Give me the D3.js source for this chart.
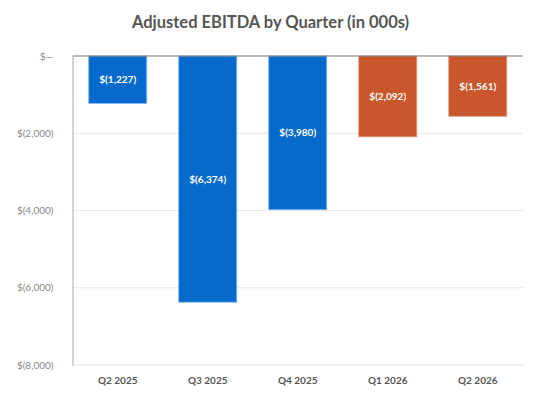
<!DOCTYPE html>
<html>
<head>
<meta charset="utf-8">
<script src="https://cdn.jsdelivr.net/npm/d3@7"></script>
<style>
  body { margin: 0; background: #fff; }
  text { font-family: Lato, "Open Sans", sans-serif; }
</style>
</head>
<body>
<main></main>
<script>
const quarters = ['Q2 2025', 'Q3 2025', 'Q4 2025', 'Q1 2026', 'Q2 2026']
const ebitda = [-1227, -6374, -3980, -2092, -1561]
const forecast = [false, false, false, true, true]
const yTicks = [0, -2000, -4000, -6000, -8000]

const W = 541, H = 403
const margin = {top: 56, right: 18, bottom: 38, left: 72.5}
const width = W - margin.left - margin.right
const height = H - margin.top - margin.bottom

const x = d3.scaleBand().domain(quarters).range([0, width]).paddingInner(0.355).paddingOuter(0.18)
const y = d3.scaleLinear().domain([-8000, 0]).range([height, 0])

const fmt = v => v === 0 ? '$—' : '$(' + d3.format(',')(Math.abs(v)) + ')'

const svg = d3.select('main').append('svg')
  .attr('width', W)
  .attr('height', H)

svg.append('text')
  .attr('x', W / 2)
  .attr('y', 28)
  .attr('text-anchor', 'middle')
  .attr('font-size', 16.5)
  .attr('font-weight', 700)
  .attr('fill', '#555')
  .text('Adjusted EBITDA by Quarter (in 000s)')

const g = svg.append('g').attr('transform', `translate(${margin.left},${margin.top})`)

// gridlines
g.append('g')
  .selectAll('line')
  .data(yTicks.filter(d => d !== 0))
  .enter().append('line')
    .attr('x1', 0)
    .attr('x2', width)
    .attr('y1', d => y(d))
    .attr('y2', d => y(d))
    .attr('stroke', '#e8e8e8')
    .attr('stroke-width', 1)

// y axis
const yAxis = g.append('g')
  .call(d3.axisLeft(y).tickValues(yTicks).tickFormat(fmt).tickSize(0).tickPadding(19))
yAxis.select('.domain').attr('stroke', '#aaa')
yAxis.selectAll('text')
  .attr('fill', '#888')
  .attr('font-size', 10)
  .style('font-family', 'Lato, sans-serif')

// bars
const rows = quarters.map((q, i) => ({q, v: ebitda[i], f: forecast[i]}))

g.append('g')
  .selectAll('rect')
  .data(rows)
  .enter().append('rect')
    .attr('x', d => x(d.q))
    .attr('width', x.bandwidth())
    .attr('y', y(0))
    .attr('height', d => y(d.v) - y(0))
    .attr('fill', d => d.f ? '#c9572b' : '#056acc')
    .attr('stroke', d => d.f ? '#e49a78' : '#7fbcf0')
    .attr('stroke-width', 0.8)

g.append('g')
  .selectAll('text')
  .data(rows)
  .enter().append('text')
    .attr('x', d => x(d.q) + x.bandwidth() / 2)
    .attr('y', d => (y(0) + y(d.v)) / 2)
    .attr('dy', '0.35em')
    .attr('text-anchor', 'middle')
    .attr('fill', '#fff')
    .attr('font-size', 10)
    .attr('font-weight', 700)
    .text(d => fmt(d.v))

// zero line
g.append('line')
  .attr('x1', 0)
  .attr('x2', width)
  .attr('y1', y(0))
  .attr('y2', y(0))
  .attr('stroke', '#777')
  .attr('stroke-width', 1.2)

// x axis labels
const xAxis = g.append('g')
  .attr('transform', `translate(0,${height})`)
  .call(d3.axisBottom(x).tickSize(0).tickPadding(12))
xAxis.select('.domain').remove()
xAxis.selectAll('text')
  .attr('fill', '#555')
  .attr('font-size', 10)
  .attr('font-weight', 700)
  .style('font-family', 'Lato, sans-serif')
</script>
</body>
</html>
